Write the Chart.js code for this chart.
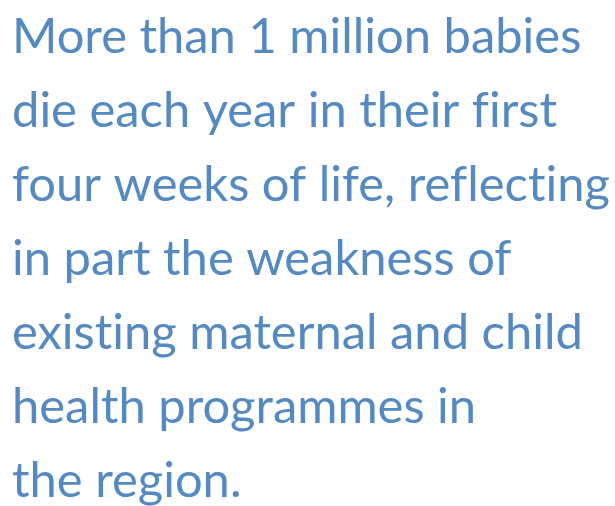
<!DOCTYPE html>
<html>
<head>
<meta charset="utf-8">
<script src="https://cdn.jsdelivr.net/npm/chart.js@4.4.1/dist/chart.umd.min.js"></script>
<style>
  html, body { margin: 0; padding: 0; background: #ffffff; overflow: hidden; }
  #wrap { position: relative; width: 615px; height: 506px; }
</style>
</head>
<body>
<div id="wrap"><canvas id="c" width="615" height="506"></canvas></div>
<script>
const textLines = [
  "More than 1 million babies",
  "die each year in their first",
  "four weeks of life, reflecting",
  "in part the weakness of",
  "existing maternal and child",
  "health programmes in",
  "the region."
];
const categories = [];
const seriesValues = [];

const FONT_FAMILY = "Lato";
const FONT_WEIGHT = 400;
const TARGET_WIDTH = 598;

function fitSize() {
  const cv = document.createElement('canvas').getContext('2d');
  if ('textRendering' in cv) cv.textRendering = 'optimizeSpeed';
  cv.font = FONT_WEIGHT + " 100px " + FONT_FAMILY;
  let w = 0;
  textLines.forEach(t => { w = Math.max(w, cv.measureText(t).width); });
  return Math.round(100 * TARGET_WIDTH / w * 10) / 10;
}

const noLigatures = {
  id: 'noLigatures',
  beforeDraw(chart) {
    if ('textRendering' in chart.ctx) chart.ctx.textRendering = 'optimizeSpeed';
  }
};

function draw() {
  const size = fitSize();
  new Chart(document.getElementById('c'), {
    type: 'bar',
    data: { labels: categories, datasets: [{ data: seriesValues }] },
    plugins: [noLigatures],
    options: {
      responsive: false,
      animation: false,
      layout: { padding: { left: 12, top: 0, right: 0, bottom: 0 } },
      scales: { x: { display: false }, y: { display: false } },
      plugins: {
        legend: { display: false },
        tooltip: { enabled: false },
        title: {
          display: true,
          text: textLines,
          align: 'start',
          color: '#5589c1',
          font: { family: FONT_FAMILY, size: size, weight: FONT_WEIGHT, lineHeight: 74 / size },
          padding: { top: 0, bottom: 0 }
        }
      }
    }
  });
}
if (document.fonts && document.fonts.load) {
  document.fonts.load(FONT_WEIGHT + " 50px " + FONT_FAMILY).then(draw, draw);
} else { draw(); }
</script>
</body>
</html>
